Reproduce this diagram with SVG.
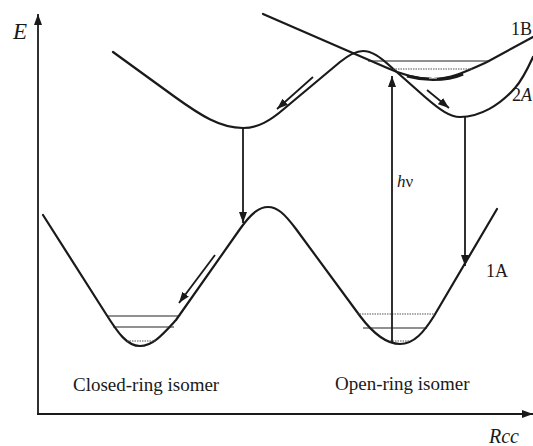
<svg xmlns="http://www.w3.org/2000/svg" width="533" height="446" viewBox="0 0 533 446">
<style>
.curve{fill:none;stroke:#1a1a1a;stroke-width:2.2;stroke-linejoin:round;stroke-linecap:round}
.arr{fill:none;stroke:#1a1a1a;stroke-width:1.8}
.lvl{stroke:#222;stroke-width:1.2;fill:none}
.dot{stroke:#555;stroke-width:1.2;stroke-dasharray:1.5 1;fill:none}
.lab{font-family:"Liberation Serif","Times New Roman",serif;fill:#1a1a1a}
.it{font-style:italic}
</style>
<defs>
<marker id="ah" viewBox="0 0 11 8" refX="11" refY="4" markerWidth="11" markerHeight="8" markerUnits="userSpaceOnUse" orient="auto">
<path d="M0,0 L11,4 L0,8 Z" fill="#1a1a1a"/>
</marker>
</defs>
<rect width="533" height="446" fill="#fff"/>
<g id="axes">
<line x1="38" y1="414" x2="38" y2="14" class="arr" stroke-width="2.2" marker-end="url(#ah)"/>
<line x1="37" y1="414" x2="533" y2="414" class="arr" stroke-width="2.2" marker-end="url(#ah)"/>
<text class="lab it" x="13" y="39" font-size="23">E</text>
<text class="lab it" x="489" y="443" font-size="20">Rcc</text>
</g>
<g id="state-1A">
<path class="curve" d="M43,215 L106,314 C118,333 127,346 140,346 C153,346 163,334 176,320 L240,229 C252,212 260,207 268,207 C277,207 284,213 296,229 L360,316 C372,332 386,344 400,344 C414,344 424,332 434,316 L497,209"/>
<text class="lab" x="486" y="277" font-size="18">1A</text>
</g>
<g id="state-2A">
<path class="curve" d="M113,52 L175,97 C200,115 220,128 243,128 C258,128 270,121 285,108 L340,62 C350,54 356,51 363,51 C372,51 380,57 390,66 L425,97 C440,110 450,117 460,117 C480,117 500,105 515,88 C522,80 528,68 533,57"/>
<text class="lab" x="512" y="101" font-size="18">2<tspan font-style="italic">A</tspan></text>
</g>
<g id="state-1B">
<path class="curve" d="M263,14 L385,67 C400,74 418,79 433,79 C450,79 465,72 487,62 L533,37"/>
<path d="M407,76 C418,79 425,79.5 433,79.5 C445,79.5 455,77.5 463,74" fill="none" stroke="#1a1a1a" stroke-width="3.2"/>
<line x1="429" y1="78.5" x2="437" y2="78.5" stroke="#999" stroke-width="1"/>
<text class="lab" x="511" y="35" font-size="18">1B</text>
</g>
<g id="levels">
<line class="lvl" x1="107" y1="316" x2="179" y2="316"/>
<line class="lvl" x1="113" y1="327" x2="174" y2="327"/>
<line class="dot" x1="127" y1="341" x2="157" y2="341"/>
<line class="dot" x1="357" y1="314" x2="435" y2="314"/>
<line class="lvl" x1="363" y1="328" x2="427" y2="328"/>
<line class="dot" x1="390" y1="341" x2="410" y2="341"/>
<line class="lvl" x1="368" y1="61" x2="490" y2="61"/>
<line class="dot" x1="393" y1="69" x2="473" y2="69"/>
</g>
<g id="connectors">
<line class="arr" x1="243" y1="128" x2="243" y2="223" marker-end="url(#ah)"/>
<line class="arr" x1="465" y1="117" x2="465" y2="266" marker-end="url(#ah)"/>
<line class="arr" x1="392" y1="343" x2="392" y2="76" marker-end="url(#ah)"/>
<line class="arr" x1="313" y1="77" x2="277" y2="109" marker-end="url(#ah)"/>
<line class="arr" x1="427" y1="90" x2="449" y2="108" marker-end="url(#ah)"/>
<line class="arr" x1="215" y1="255" x2="179" y2="303" marker-end="url(#ah)"/>
<text class="lab" x="397" y="187" font-size="17"><tspan font-style="italic">h</tspan>ν</text>
</g>
<g id="captions">
<text class="lab" x="73" y="391" font-size="19">Closed-ring isomer</text>
<text class="lab" x="335" y="390" font-size="19">Open-ring isomer</text>
</g>
</svg>
